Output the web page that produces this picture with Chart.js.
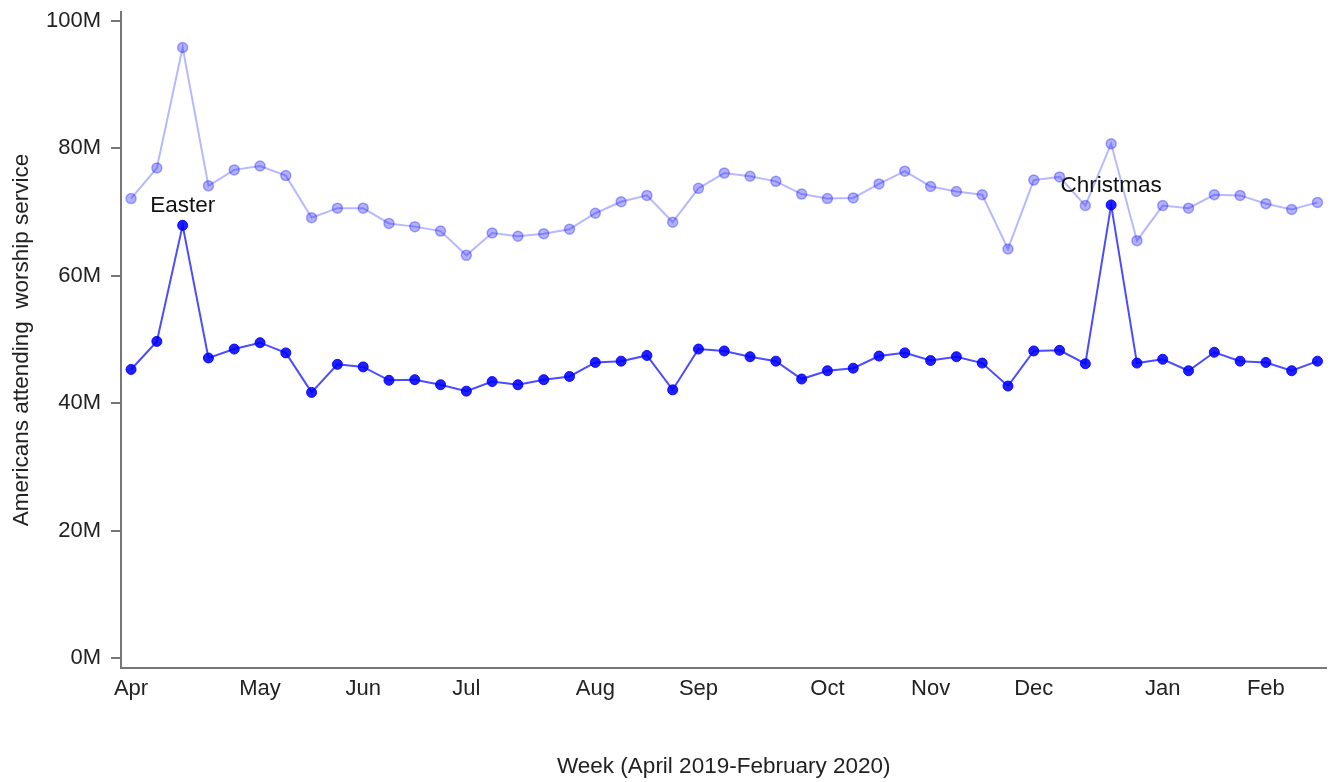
<!DOCTYPE html>
<html>
<head>
<meta charset="utf-8">
<script src="https://cdn.jsdelivr.net/npm/chart.js@4.4.1/dist/chart.umd.min.js"></script>
<style>
  html, body { margin: 0; padding: 0; background: #fff; }
  #wrap { width: 1333px; height: 782px; }
</style>
</head>
<body>
<div id="wrap"><canvas id="attChart"></canvas></div>
<script>
// weekly attendance, millions, Apr 2019 - Feb 2020 (47 weeks)
const weekIdx = Array.from({ length: 47 }, (_, i) => i);

const attendLow = [
  45.3, 49.7, 67.9, 47.1, 48.5, 49.5, 47.9, 41.7, 46.1, 45.7,
  43.6, 43.7, 42.9, 41.9, 43.4, 42.9, 43.7, 44.2, 46.4, 46.6,
  47.5, 42.1, 48.5, 48.2, 47.3, 46.6, 43.8, 45.1, 45.5, 47.4,
  47.9, 46.7, 47.3, 46.3, 42.7, 48.2, 48.3, 46.2, 71.1, 46.3,
  46.9, 45.1, 48.0, 46.6, 46.4, 45.1, 46.6
];

const attendHigh = [
  72.1, 76.9, 95.8, 74.1, 76.6, 77.2, 75.7, 69.1, 70.6, 70.6,
  68.2, 67.7, 67.0, 63.2, 66.7, 66.2, 66.6, 67.3, 69.8, 71.6,
  72.6, 68.4, 73.7, 76.1, 75.6, 74.8, 72.8, 72.1, 72.2, 74.4,
  76.4, 74.0, 73.2, 72.7, 64.2, 75.0, 75.5, 71.0, 80.7, 65.5,
  71.0, 70.6, 72.7, 72.6, 71.3, 70.4, 71.5
];

// month labels sit on the first week of each month
const monthIdx = [0, 5, 9, 13, 18, 22, 27, 31, 35, 40, 44];
const monthLabels = ["Apr", "May", "Jun", "Jul", "Aug", "Sep", "Oct", "Nov", "Dec", "Jan", "Feb"];

const yTicks = [0, 20, 40, 60, 80, 100];

const noteIdx = [2, 38];
const noteText = ["Easter", "Christmas"];

const FONT = "'Liberation Sans', Arial, sans-serif";

const notesPlugin = {
  id: "notesPlugin",
  afterDatasetsDraw(chart) {
    const meta = chart.getDatasetMeta(1);
    const { ctx } = chart;
    ctx.save();
    ctx.font = "22.5px " + FONT;
    ctx.fillStyle = "#111";
    ctx.textAlign = "center";
    ctx.textBaseline = "bottom";
    noteIdx.forEach((idx, i) => {
      const pt = meta.data[idx];
      if (!pt) return;
      ctx.fillText(noteText[i], pt.x, pt.y - 8);
    });
    ctx.restore();
  }
};

const data = {
  datasets: [
    {
      label: "upper",
      data: weekIdx.map(i => ({ x: i, y: attendHigh[i] })),
      borderColor: "rgba(0, 0, 255, 0.28)",
      borderWidth: 2,
      backgroundColor: "rgba(0, 0, 255, 0.3)",
      pointBackgroundColor: "rgba(0, 0, 255, 0.3)",
      pointBorderColor: "rgba(0, 0, 255, 0.32)",
      pointBorderWidth: 1.5,
      pointRadius: 5,
      tension: 0
    },
    {
      label: "lower",
      data: weekIdx.map(i => ({ x: i, y: attendLow[i] })),
      borderColor: "rgba(0, 0, 255, 0.7)",
      borderWidth: 2,
      backgroundColor: "rgba(0, 0, 255, 0.88)",
      pointBackgroundColor: "rgba(0, 0, 255, 0.88)",
      pointBorderColor: "rgba(0, 0, 255, 0.9)",
      pointBorderWidth: 1,
      pointRadius: 5,
      tension: 0
    }
  ]
};

const config = {
  type: "line",
  data,
  options: {
    responsive: true,
    maintainAspectRatio: false,
    animation: false,
    layout: { padding: { left: 0, right: 3, top: 12, bottom: 0 } },
    plugins: {
      legend: { display: false },
      tooltip: { enabled: false }
    },
    scales: {
      x: {
        type: "linear",
        min: -0.39,
        max: 46.35,
        afterBuildTicks: scale => { scale.ticks = monthIdx.map(v => ({ value: v })); },
        afterFit: scale => { scale.height = 114; },
        ticks: {
          autoSkip: false,
          maxRotation: 0,
          padding: 8,
          color: "#222",
          font: { family: FONT, size: 22 },
          callback: (v, i) => monthLabels[i]
        },
        grid: { display: false, drawTicks: false },
        border: { display: true, color: "#777", width: 2 },
        title: {
          display: true,
          text: "Week (April 2019-February 2020)",
          color: "#222",
          font: { family: FONT, size: 22.5 },
          padding: { top: 0, bottom: 1.5 }
        }
      },
      y: {
        min: -1.52,
        max: 101.36,
        afterBuildTicks: scale => { scale.ticks = yTicks.map(v => ({ value: v })); },
        afterFit: scale => {
          scale.width = 121;
          scale.paddingTop = 0;
          scale.paddingBottom = 0;
        },
        ticks: {
          padding: 10,
          color: "#222",
          font: { family: FONT, size: 22 },
          callback: v => v + "M"
        },
        grid: { drawOnChartArea: false, drawTicks: true, tickLength: 10, color: "#777", lineWidth: 2 },
        border: { display: true, color: "#777", width: 2 },
        title: {
          display: true,
          text: "Americans attending  worship service",
          color: "#222",
          font: { family: FONT, size: 22.5 },
          padding: { top: 8.5, bottom: 0 }
        }
      }
    }
  },
  plugins: [notesPlugin]
};

new Chart(document.getElementById("attChart").getContext("2d"), config);
</script>
</body>
</html>
